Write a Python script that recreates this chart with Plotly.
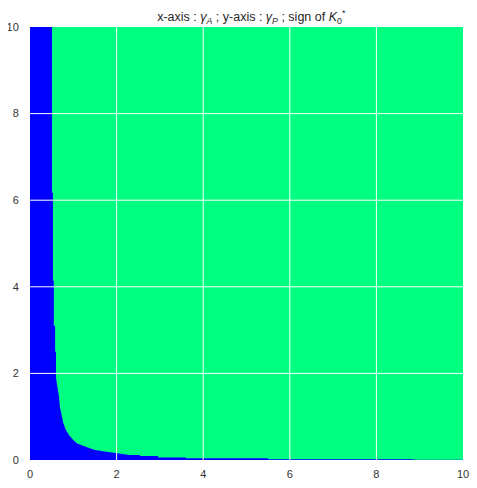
import plotly.graph_objects as go

# boundary of the negative (blue) region: gamma_A -> gamma_P
gamma_a = [0.0, 0.51, 0.51, 0.53, 0.53, 0.55, 0.55, 0.58, 0.58, 0.60, 0.60,
           0.64, 0.67, 0.69, 0.73, 0.77, 0.83, 0.90, 1.00, 1.09, 1.27, 1.50,
           1.77, 2.00, 2.30, 2.54, 2.54, 2.96, 2.96, 3.60, 3.60, 5.50, 5.50,
           8.85, 8.85, 10.0]
gamma_p = [10.0, 10.0, 6.17, 6.17, 4.14, 4.14, 3.10, 3.10, 2.50, 2.50, 1.90,
           1.69, 1.46, 1.23, 1.04, 0.85, 0.69, 0.58, 0.46, 0.38, 0.31, 0.23,
           0.19, 0.15, 0.115, 0.115, 0.09, 0.09, 0.06, 0.06, 0.04, 0.04, 0.016,
           0.016, 0.008, 0.008]
tick_vals = [0, 2, 4, 6, 8, 10]

NEG = "#0000ff"
POS = "#00ff80"
FONT = "Arial, Liberation Sans, sans-serif"

fig = go.Figure()
fig.add_trace(go.Scatter(
    x=gamma_a, y=gamma_p, mode="lines", fill="tozeroy",
    fillcolor=NEG, line=dict(width=0, color=NEG),
    hoverinfo="skip", showlegend=False,
))

# white grid drawn over the image, like the matplotlib original
grid = []
for v in tick_vals[1:-1]:
    grid.append(dict(type="line", xref="x", yref="paper", x0=v, x1=v, y0=0, y1=1,
                     line=dict(color="white", width=1), layer="above"))
    grid.append(dict(type="line", xref="paper", yref="y", x0=0, x1=1, y0=v, y1=v,
                     line=dict(color="white", width=1), layer="above"))

axis = dict(range=[0, 10], tickvals=tick_vals, showgrid=False, zeroline=False,
            showline=False, ticks="outside", tickcolor="rgba(0,0,0,0)",
            automargin=False,
            tickfont=dict(size=11, color="#333333", family=FONT))

# the page body adds an 8px offset, so margins are trimmed to keep the
# axes box at the same place as in the original image
fig.update_layout(
    width=477, height=488,
    margin=dict(l=22, r=22, t=19, b=36, autoexpand=False),
    paper_bgcolor="white", plot_bgcolor=POS,
    title=dict(
        text="x-axis : <i>γ</i><sub><i>A</i></sub> ; y-axis : <i>γ</i><sub><i>P</i></sub> ; "
             "sign of <i>K</i><sub>0</sub><sup>*</sup>",
        x=0.511, xanchor="center", xref="paper", y=1 - 9 / 488, yref="container",
        yanchor="middle",
        font=dict(size=12.5, color="#262626", family=FONT),
    ),
    xaxis=dict(axis, ticklen=4),
    yaxis=dict(axis, ticklen=8),
    shapes=grid,
)

fig.write_html("out.html")
